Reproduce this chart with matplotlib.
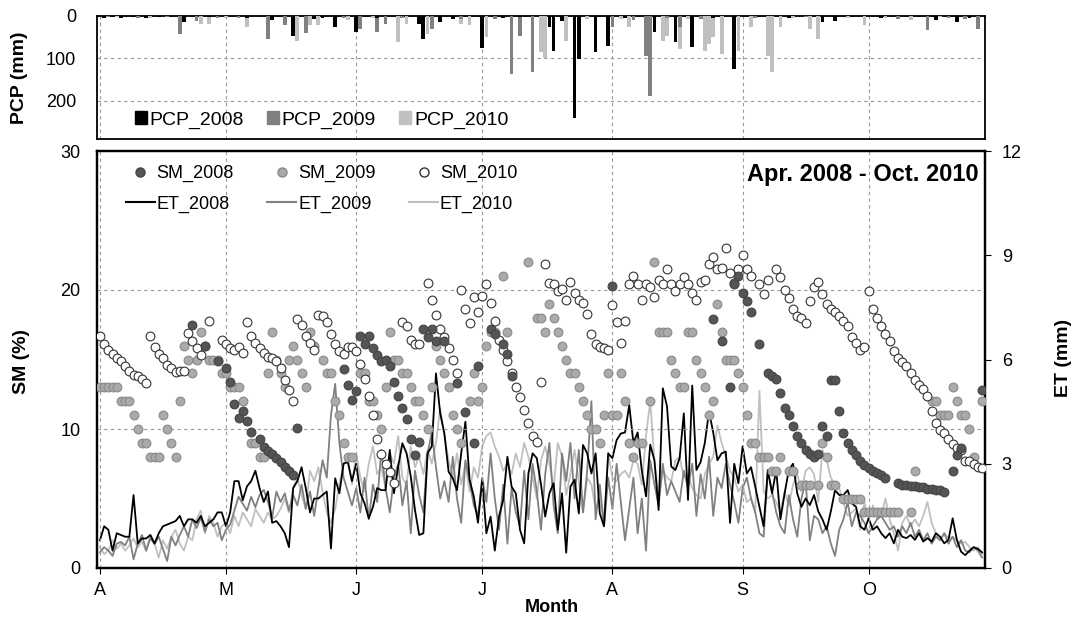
import matplotlib
matplotlib.use("Agg")
import matplotlib.pyplot as plt
from matplotlib.lines import Line2D
from matplotlib.patches import Patch

plt.rcParams['font.family'] = ['Liberation Sans', 'DejaVu Sans']

# ---------------- data ----------------
month_labels = ['A', 'M', 'J', 'J', 'A', 'S', 'O']
month_lengths = [30, 31, 30, 31, 31, 30, 31]   # Apr..Oct
year_labels = ['2008', '2009', '2010']

# daily precipitation (day index from 1 April, mm)
pcp2008_days = [1, 3, 5, 8, 11, 14, 20, 26, 35, 41, 46, 51, 53, 56, 61, 66, 76, 77, 81, 84, 91,
                96, 100, 107, 108, 110, 113, 114, 118, 121, 125, 132, 137, 141, 146, 151, 157,
                164, 172, 175, 179, 186, 195, 199, 204, 207]
pcp2008_mm = [4, 3, 5, 3, 4, 3, 15, 3, 5, 10, 46, 6, 4, 25, 38, 5, 18, 54, 14, 6, 76,
              4, 3, 26, 82, 12, 240, 102, 86, 70, 5, 38, 62, 74, 4, 125, 3,
              4, 14, 12, 3, 4, 3, 10, 14, 5]
pcp2009_days = [2, 9, 16, 19, 23, 28, 33, 40, 44, 49, 58, 62, 66, 68, 72, 79, 86, 94, 98,
                100, 103, 110, 122, 127, 130, 131, 135, 138, 143, 156, 168, 190, 197, 202, 206, 209]
pcp2009_mm = [3, 4, 3, 42, 12, 5, 4, 54, 22, 40, 5, 30, 38, 18, 4, 30, 6, 8, 136,
              46, 133, 6, 26, 10, 94, 189, 5, 26, 8, 4, 3, 6, 34, 5, 8, 30]
pcp2010_days = [4, 12, 24, 26, 30, 35, 44, 47, 50, 52, 59, 65, 71, 73, 78, 81, 86, 88, 92, 98,
                105, 106, 111, 116, 124, 126, 134, 135, 138, 140, 144, 145, 146, 148, 152, 155,
                159, 160, 162, 165, 169, 171, 178, 182, 187, 193, 200]
pcp2010_mm = [3, 4, 20, 18, 5, 25, 6, 58, 22, 22, 10, 4, 62, 18, 42, 5, 18, 22, 50, 6,
              86, 98, 58, 8, 6, 26, 58, 46, 78, 8, 82, 66, 50, 90, 82, 26,
              94, 133, 26, 4, 30, 54, 5, 22, 4, 10, 3]

# soil moisture (%)
sm2008_days = [22, 25, 28, 30, 31, 32, 33, 34, 35, 36, 38, 39, 40, 41, 42, 43, 44, 45, 46, 47,
               58, 59, 60, 61, 62, 63, 64, 65, 66, 67, 68, 69, 70, 71, 72, 73, 74, 75, 76, 77,
               78, 79, 80, 82, 85, 87, 89, 90, 93, 94, 96, 97, 98,
               122, 146, 148, 150, 151, 152, 153, 154, 155, 157, 159, 160, 161, 162, 163, 164,
               165, 166, 167, 168, 169, 170, 171, 172, 173, 174, 175, 176, 177, 178, 179, 180,
               181, 182, 183, 184, 185, 186, 187, 190, 191, 192, 193, 194, 195, 196, 197, 198,
               199, 200, 201, 203, 204, 205, 210]
sm2008 = [17.5, 16.0, 14.9, 14.4, 13.4, 11.8, 10.8, 11.3, 10.6, 9.8, 9.3, 8.7, 8.4, 8.2, 7.9, 7.6, 7.3, 7.0, 6.7, 10.1,
          14.3, 13.2, 12.1, 12.7, 16.7, 16.1, 16.7, 15.8, 15.3, 14.9, 15.0, 14.5, 13.4, 12.4, 11.5, 10.7, 9.3, 8.1, 9.1, 17.2,
          16.6, 17.2, 16.3, 16.3, 13.3, 11.2, 9.0, 14.5, 17.2, 16.8, 16.1, 15.4, 13.8,
          20.3, 17.9, 16.3, 13.0, 20.4, 21.0, 19.8, 19.2, 18.4, 16.1, 14.0, 13.8, 13.6, 12.6, 11.5, 11.0,
          10.2, 9.5, 9.0, 8.5, 8.2, 8.0, 8.2, 10.2, 9.5, 13.5, 13.5, 11.3, 9.7, 9.0, 8.5, 8.1,
          7.7, 7.4, 7.2, 7.0, 6.8, 6.7, 6.5, 6.1, 6.0, 6.0, 5.9, 5.9, 5.8, 5.8, 5.7, 5.7,
          5.6, 5.6, 5.5, 7.0, 8.1, 8.6, 12.8]

sm2009_days = [0, 1, 2, 3, 4, 5, 6, 7, 8, 9, 10, 11, 12, 13, 14, 15, 16, 17, 18, 19,
               20, 21, 22, 23, 24, 25, 26, 27, 28, 29, 30, 31, 32, 33, 34, 36, 37, 38, 39, 40,
               41, 42, 43, 44, 45, 46, 47, 48, 49, 50, 51, 53, 54, 55, 56, 57, 58, 59, 60, 62,
               63, 64, 65, 66, 67, 68, 69, 70, 71, 72, 73, 74, 75, 76, 77, 78, 79, 80, 81, 82,
               83, 84, 85, 86, 88, 89, 90, 91, 92, 93, 94, 96, 97, 102, 104, 105, 106, 107, 108, 109,
               110, 111, 112, 113, 114, 115, 116, 117, 118, 119, 120, 121, 122, 123, 124, 125, 126, 127, 128, 129,
               131, 132, 133, 134, 135, 136, 137, 138, 139, 140, 141, 142, 143, 144, 145, 146, 147, 148, 149, 150,
               151, 152, 153, 154, 155, 156, 157, 158, 159, 160, 161, 162, 164, 165, 167, 168, 169, 171, 172, 173,
               174, 175, 177, 178, 179, 180, 181, 182, 183, 184, 185, 186, 187, 188, 189, 190, 193, 194,
               198, 199, 200, 201, 202, 203, 204, 205, 206, 207, 208, 210]
sm2009 = [13, 13, 13, 13, 13, 12, 12, 12, 11, 10, 9, 9, 8, 8, 8, 11, 10, 9, 8, 12,
          16, 15, 14, 15, 17, 16, 15, 15, 15, 14, 14, 13, 13, 13, 12, 9, 9, 8, 8, 14,
          17, 15, 14, 13, 15, 16, 15, 14, 13, 17, 16, 15, 14, 14, 12, 11, 9, 8, 8, 14,
          14, 12, 12, 11, 10, 13, 17, 15, 15, 14, 14, 13, 12, 12, 11, 10, 13, 16, 15, 14,
          13, 11, 10, 9, 12, 14, 12, 13, 16, 17, 17, 21, 17, 22, 18, 18, 17, 19, 18, 17,
          16, 15, 14, 14, 13, 12, 11, 10, 10, 9, 11, 14, 11, 11, 14, 12, 9, 8, 9, 9,
          12, 22, 17, 17, 17, 15, 14, 13, 13, 17, 17, 15, 14, 13, 11, 12, 19, 17, 15, 15,
          15, 14, 13, 11, 9, 9, 8, 8, 8, 7, 7, 8, 7, 7, 6, 6, 6, 6, 9, 8,
          6, 6, 5, 5, 5, 5, 5, 4, 4, 4, 4, 4, 4, 4, 4, 4, 4, 7,
          12, 12, 11, 11, 11, 13, 12, 11, 11, 10, 8, 12]

sm2010_days = (list(range(0, 25)) + [26] + list(range(29, 71)) + list(range(72, 77))
               + list(range(78, 156)) + [157, 158, 159] + list(range(161, 211)))
sm2010 = [16.7, 16.1, 15.7, 15.4, 15.1, 14.9, 14.5, 14.2, 13.9, 13.8, 13.6, 13.3, 16.7, 15.9, 15.4, 15.1,
          14.6, 14.4, 14.1, 14.2, 14.2, 16.9, 16.3, 15.8, 15.3, 17.8,
          16.4, 16.1, 15.8, 15.7, 15.9, 15.5, 17.7, 16.7, 16.2, 15.8, 15.5, 15.2, 15.1, 14.9, 14.4, 13.5,
          12.8, 12.0, 17.9, 17.5, 16.7, 16.2, 15.7, 18.2, 18.1, 17.7, 16.8, 16.1, 15.6, 15.4, 15.9, 15.9, 15.6,
          14.7, 13.6, 12.4, 11.0, 9.3, 8.2, 7.5, 6.9, 6.1, 17.7, 17.4, 16.4, 16.1, 16.1,
          20.5, 19.3, 18.2, 17.2, 16.6, 15.8, 15.0, 14.0, 20.0, 18.6, 17.6, 19.5, 18.4, 19.6, 20.4, 19.1,
          17.8, 16.4, 15.7, 14.9, 14.0, 13.0, 12.3, 11.4, 10.4, 9.5, 9.1, 13.4, 21.9, 20.5, 20.4,
          19.95, 20.05, 19.3, 20.6, 19.8, 19.3, 19.1, 18.3, 16.8, 16.1, 15.9, 15.8, 15.7, 18.9, 17.7, 16.2,
          17.8, 20.4, 21.0, 20.4, 19.3, 20.4, 20.2, 19.5, 20.7, 20.4, 21.5, 20.4, 19.9, 20.4, 20.9, 20.4,
          19.8, 19.3, 20.6, 20.7, 21.9, 22.4, 21.5, 21.6, 23.0, 21.2, 20.5, 21.5, 22.5, 21.5, 21.0,
          20.4, 19.7, 20.7, 21.5, 20.9, 20.0, 19.4, 18.6, 18.1, 18.0, 17.6, 19.2, 20.2, 20.6, 19.7,
          19.0, 18.6, 18.4, 18.1, 17.8, 17.4, 16.6, 16.2, 15.7, 15.9, 19.9, 18.6, 18.0, 17.4, 16.8,
          16.3, 15.6, 15.1, 14.8, 14.5, 14.0, 13.5, 13.2, 12.9, 12.4, 11.3, 10.4, 9.9, 9.7, 9.3,
          8.9, 8.6, 8.5, 7.7, 7.7, 7.5, 7.3, 7.2]

# evapotranspiration (mm), daily from 1 April
et2008 = [0.8, 1.2, 1.1, 0.5, 1.0, 0.95, 0.9, 0.9, 2.1, 0.7,
          0.85, 0.85, 0.95, 0.7, 1.0, 1.2, 1.25, 1.3, 1.35, 1.5,
          1.2, 1.4, 1.4, 1.3, 1.5, 1.2, 1.3, 1.4, 1.6, 1.6,
          1.2, 1.6, 2.5, 2.5, 1.95, 2.35, 2.5, 2.8, 2.3, 1.9,
          2.2, 1.3, 1.35, 1.2, 1.0, 0.6, 2.3, 2.5, 2.9, 2.3,
          1.6, 2.0, 2.0, 2.1, 2.2, 0.56, 2.58, 2.15, 3.0, 3.05,
          2.5, 3.0, 2.15, 1.86, 1.43, 1.76, 2.3, 2.24, 2.24, 3.4,
          2.15, 2.92, 3.59, 3.3, 2.63, 1.67, 0.95, 1.0, 3.3, 3.5,
          5.6, 4.45, 3.87, 2.77, 2.58, 2.24, 3.3, 4.21, 2.54, 2.06,
          1.3, 2.54, 1.0, 1.48, 0.5, 1.48, 1.96, 3.2, 2.34, 2.15,
          1.1, 0.71, 2.72, 3.3, 3.16, 2.4, 1.48, 2.15, 2.44, 1.1,
          2.15, 0.44, 2.34, 2.54, 1.57, 3.54, 3.3, 2.72, 3.3, 1.57,
          1.2, 3.3, 3.16, 3.68, 3.87, 3.9, 4.69, 3.6, 3.9, 2.8,
          2.06, 3.55, 3.1, 1.67, 5.17, 4.65, 2.92, 2.82, 3.16, 4.45,
          1.96, 5.25, 2.82, 3.05, 3.6, 4.5, 3.9, 3.1, 3.3, 3.35,
          1.3, 3.0, 2.44, 3.5, 2.72, 2.9, 2.34, 1.76, 1.2, 2.82,
          2.15, 2.82, 1.4, 2.15, 2.82, 3.0, 2.15, 1.76, 2.0, 1.81,
          2.1, 1.63, 1.4, 1.1, 1.63, 2.24, 2.1, 2.1, 2.24, 1.86,
          1.76, 1.2, 1.1, 1.43, 1.1, 1.2, 1.0, 0.86, 1.0, 0.71,
          1.1, 0.9, 0.86, 0.95, 0.81, 1.0, 0.76, 0.86, 0.76, 1.0,
          0.9, 0.71, 0.81, 1.43, 0.81, 0.47, 0.37, 0.5, 0.6, 0.55,
          0.45]
et2009 = [0.45, 0.6, 0.5, 0.35, 0.7, 0.75, 0.65, 0.9, 0.25, 0.7,
          0.95, 0.5, 0.85, 0.7, 0.9, 0.55, 0.2, 0.9, 0.65, 0.95,
          1.2, 0.9, 1.4, 1.15, 1.45, 1.05, 1.4, 1.2, 1.3, 0.8,
          1.1, 1.25, 1.65, 2.05, 1.85, 1.65, 2.05, 1.75, 2.1, 2.25,
          1.9, 1.45, 2.2, 1.9, 2.15, 1.65, 2.1, 1.8, 2.4, 1.7,
          2.2, 1.5, 2.3, 3.1, 2.6, 4.4, 5.3, 3.6, 2.6, 2.2,
          1.8, 2.3, 1.6, 2.6, 1.4, 2.4, 1.9, 3.4, 2.3, 1.6,
          2.6, 3.0, 1.8, 2.5, 1.0, 2.8, 2.1, 1.6, 3.3, 3.9,
          2.9, 2.0, 2.5, 1.9, 3.2, 2.0, 1.3, 3.1, 2.5, 1.8,
          1.5, 2.6, 1.9, 3.3, 2.0, 1.1, 2.4, 0.7, 2.3, 1.6,
          1.2, 2.8, 1.4, 3.0, 2.2, 1.1, 2.7, 3.6, 1.8, 1.0,
          3.3, 2.5, 3.6, 2.0, 3.4, 1.6, 2.8, 4.8, 1.4, 2.4,
          1.2, 2.6, 1.7, 3.0, 1.9, 0.8, 1.7, 2.6, 1.0, 2.0,
          0.5, 3.1, 2.4, 1.8, 3.0, 2.1, 2.5, 2.2, 1.9, 2.8,
          2.3, 3.0, 1.5, 2.7, 2.0, 3.2, 1.5, 2.6, 2.3, 3.0,
          2.4, 1.9, 1.3, 2.3, 2.6, 2.0, 1.6, 1.0, 0.9, 2.8,
          2.2, 1.6, 1.2, 1.0, 2.1, 1.4, 0.9, 2.0, 2.5, 0.8,
          1.5, 1.4, 1.0, 1.2, 0.7, 0.35, 1.1, 1.4, 1.9, 1.2,
          1.6, 1.5, 1.3, 1.0, 1.2, 1.4, 1.5, 1.3, 1.1, 1.2,
          0.9, 1.2, 1.0, 1.3, 0.9, 1.1, 0.8, 1.0, 0.7, 0.9,
          0.8, 1.0, 0.7, 0.9, 0.6, 0.8, 0.5, 0.45, 0.6, 0.5,
          0.3]
et2010 = [0.6, 0.4, 0.5, 0.8, 0.55, 0.7, 0.5, 0.65, 0.85, 0.6,
          0.75, 0.5, 0.95, 0.7, 0.3, 0.8, 0.55, 0.9, 1.1, 0.7,
          0.5, 0.9, 0.8, 1.4, 1.65, 1.0, 1.5, 1.3, 0.9, 1.2,
          1.3, 1.0, 1.5, 1.2, 1.6, 1.4, 1.2, 1.7, 1.5, 1.3,
          1.6, 1.4, 1.5, 1.7, 2.0, 1.6, 2.3, 2.6, 2.1, 1.7,
          2.8, 2.5, 2.9, 2.2, 1.6, 1.3, 1.7, 2.4, 3.0, 3.2,
          2.4, 3.3, 2.6, 2.2, 3.0, 3.5, 2.7, 2.9, 2.3, 3.3,
          3.0, 3.8, 2.6, 2.4, 3.5, 2.9, 3.2, 2.7, 3.4, 3.0,
          3.6, 4.6, 3.8, 3.1, 2.6, 3.3, 2.4, 3.0, 2.2, 2.9,
          2.6, 3.5, 3.8, 3.9, 3.5, 3.2, 2.8, 3.0, 2.7, 3.3,
          2.9, 3.6, 3.2, 2.6, 2.0, 3.1, 3.5, 3.0, 2.3, 3.6,
          3.2, 2.1, 2.7, 3.4, 2.5, 1.6, 2.6, 2.4, 1.7, 2.0,
          1.3, 3.3, 2.6, 2.5, 2.7, 2.8, 2.6, 3.1, 3.0, 2.4,
          3.8, 4.8, 3.1, 2.0, 2.8, 2.6, 2.5, 3.1, 3.2, 2.6,
          2.7, 2.3, 2.1, 2.0, 2.7, 3.0, 3.2, 4.1, 3.6, 3.2,
          2.8, 2.6, 2.2, 2.4, 1.9, 2.0, 1.6, 5.1, 2.2, 2.0,
          2.1, 1.9, 1.6, 2.2, 1.8, 2.4, 2.7, 2.2, 2.8, 2.9,
          2.7, 1.9, 3.4, 3.1, 2.6, 2.4, 2.3, 1.9, 1.5, 1.6,
          1.7, 1.1, 1.9, 1.4, 1.8, 1.4, 1.5, 2.0, 1.4, 1.0,
          0.5, 1.3, 1.5, 1.2, 1.4, 1.2, 1.5, 1.9, 1.3, 1.0,
          0.8, 1.0, 0.85, 0.9, 0.8, 0.7, 0.75, 0.6, 0.5, 0.6,
          0.4]

title_text = 'Apr. 2008 - Oct. 2010'


def paired(days, vals):
    n = min(len(days), len(vals))
    return days[:n], vals[:n]


# ---------------- styling ----------------
c08, c09, c10 = '#000000', '#808080', '#c0c0c0'
W, H = 1078, 621
fig = plt.figure(figsize=(W / 100, H / 100), dpi=100)
L, R = 97, 985
ax_p = fig.add_axes([L / W, 1 - 139 / H, (R - L) / W, (139 - 16) / H])
ax = fig.add_axes([L / W, 1 - 568 / H, (R - L) / W, (568 - 151) / H])
ax2 = ax.twinx()

month_starts = [sum(month_lengths[:i]) for i in range(len(month_lengths))]
xlim = (-0.7, 210.7)

# precipitation
for days, vals, col in [(pcp2010_days, pcp2010_mm, c10), (pcp2009_days, pcp2009_mm, c09),
                        (pcp2008_days, pcp2008_mm, c08)]:
    d, v = paired(days, vals)
    ax_p.bar(d, v, width=0.9, color=col, zorder=3)
ax_p.set_ylim(290, 0)
ax_p.set_yticks([0, 100, 200])
ax_p.set_xlim(*xlim)
ax_p.set_xticks(month_starts)
ax_p.tick_params(axis='x', bottom=False, labelbottom=False)
ax_p.tick_params(axis='y', length=0, pad=15, labelsize=13)
ax_p.grid(True, which='major', linestyle=(0, (3, 3)), color='#999999', lw=0.8, zorder=0)
for s in ax_p.spines.values():
    s.set_linewidth(1.3)
ax_p.legend(handles=[Patch(color=c, label='PCP_' + y) for c, y in zip([c08, c09, c10], year_labels)],
            ncol=3, loc='center left', bbox_to_anchor=((135 - L) / (R - L), (139 - 120) / 123),
            frameon=False, fontsize=14, borderpad=0, borderaxespad=0,
            handlelength=0.6, handleheight=0.6, handletextpad=0.15, columnspacing=1.2)

# ET lines (right axis)
ax2.plot(range(len(et2010)), et2010, color=c10, lw=1.3)
ax2.plot(range(len(et2009)), et2009, color=c09, lw=1.3)
ax2.plot(range(len(et2008)), et2008, color=c08, lw=1.3)
ax2.set_ylim(0, 12)
ax2.set_yticks([0, 3, 6, 9, 12])
ax2.tick_params(axis='y', length=4, pad=8, labelsize=13)

# SM scatter (left axis, drawn on top)
ax.set_zorder(ax2.get_zorder() + 1)
ax.patch.set_visible(False)
d, v = paired(sm2009_days, sm2009)
ax.scatter(d, v, s=40, facecolor='#aaaaaa', edgecolor='#8a8a8a', lw=0.8, zorder=4)
d, v = paired(sm2010_days, sm2010)
ax.scatter(d, v, s=40, facecolor='white', edgecolor='#333333', lw=0.8, zorder=4)
d, v = paired(sm2008_days, sm2008)
ax.scatter(d, v, s=40, facecolor='#555555', edgecolor='#444444', lw=0.8, zorder=5)
ax.set_ylim(0, 30)
ax.set_yticks([0, 10, 20, 30])
ax.set_xlim(*xlim)
ax.set_xticks(month_starts)
ax.set_xticklabels(month_labels)
ax.tick_params(axis='x', length=4, pad=6, labelsize=13)
ax.tick_params(axis='y', length=0, pad=12, labelsize=13)
ax.grid(True, linestyle=(0, (3, 3)), color='#999999', lw=0.8)
for a in (ax, ax2):
    for s in a.spines.values():
        s.set_linewidth(1.6)

handles = [
    Line2D([], [], ls='none', marker='o', ms=6.5, mfc='#555555', mec='#444444', label='SM_2008'),
    Line2D([], [], color=c08, lw=1.5, label='ET_2008'),
    Line2D([], [], ls='none', marker='o', ms=6.5, mfc='#aaaaaa', mec='#8a8a8a', label='SM_2009'),
    Line2D([], [], color=c09, lw=1.5, label='ET_2009'),
    Line2D([], [], ls='none', marker='o', ms=6.5, mfc='white', mec='#333333', label='SM_2010'),
    Line2D([], [], color=c10, lw=1.5, label='ET_2010'),
]
ax.legend(handles=handles, ncol=3, loc='upper left',
          bbox_to_anchor=((126 - L) / (R - L), (568 - 165) / 417), frameon=False,
          fontsize=13, borderpad=0, borderaxespad=0,
          handlelength=1.6, handletextpad=0.1, columnspacing=1.85, labelspacing=0.75)

ax.text((979 - L) / (R - L), (568 - 175) / 417, title_text, transform=ax.transAxes,
        ha='right', va='center', fontsize=17, fontweight='bold')

fig.text(20 / W, 1 - 78 / H, 'PCP (mm)', rotation=90, ha='center', va='center', fontsize=14, fontweight='bold')
fig.text(22 / W, 1 - 361 / H, 'SM (%)', rotation=90, ha='center', va='center', fontsize=14, fontweight='bold')
fig.text(1063 / W, 1 - 358 / H, 'ET (mm)', rotation=90, ha='center', va='center', fontsize=14, fontweight='bold')
fig.text(552 / W, 1 - 608 / H, 'Month', ha='center', va='center', fontsize=13, fontweight='bold')

fig.savefig('out.png', dpi=100)
